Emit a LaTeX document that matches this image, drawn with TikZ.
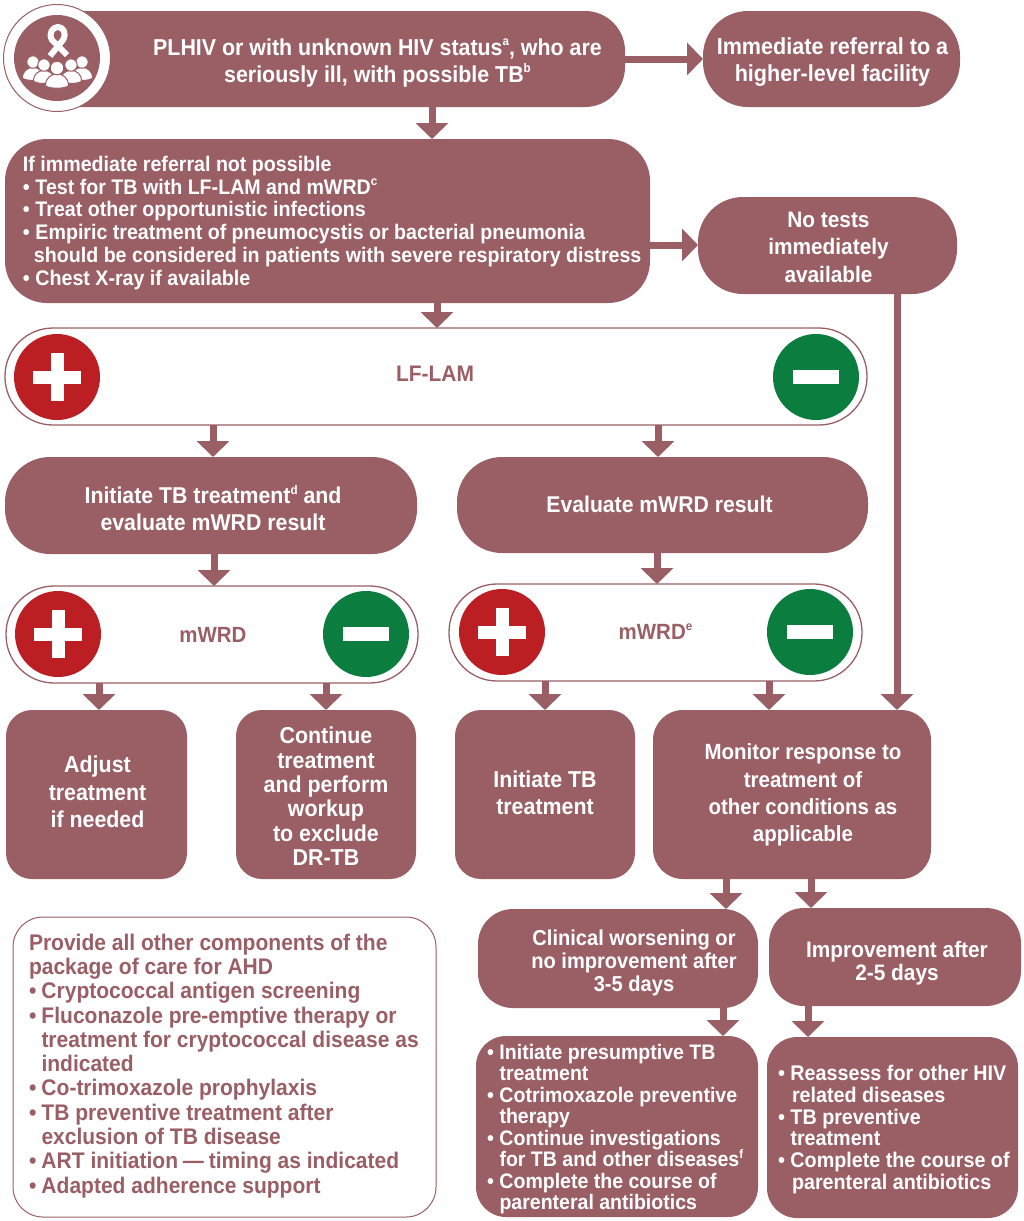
\documentclass[tikz,border=0pt]{standalone}
\usepackage{fontspec}
\setmainfont{Liberation Sans}[FakeStretch=0.93]
\usetikzlibrary{arrows.meta,calc}
\definecolor{mar}{HTML}{9A5F65}
\definecolor{redc}{HTML}{BB1F24}
\definecolor{grnc}{HTML}{0B7D3E}
\newcommand{\fsz}[2]{\fontsize{#1}{#2}\selectfont\bfseries}
\newcommand{\ctext}[3]{\hspace*{\dimexpr2\dimexpr#1pt\relax\relax}\smash{\raisebox{\dimexpr#2pt-5pt\relax}{\begin{tabular}{@{}c@{}}#3\end{tabular}}}}
\newcommand{\ltext}[4]{\makebox[#1pt][l]{\hspace*{#2pt}\smash{\raisebox{\dimexpr#3pt-5pt\relax}{\begin{tabular}{@{}l@{}}#4\end{tabular}}}}}
\newcommand{\bul}{\makebox[12.5pt][l]{•}}
\newcommand{\sps}[1]{\smash{\raisebox{.4em}{\fontsize{12.5}{12.5}\selectfont #1}}}
\tikzset{
  x=1pt,y=-1pt,
  boxbase/.style={rectangle,inner sep=0pt,outer sep=0pt,fill=mar,text=white},
  whitebox/.style={rectangle,inner sep=0pt,outer sep=0pt,fill=white,draw=mar,line width=1.3pt,text=mar},
  flow/.style={draw=mar,line width=7pt,line cap=butt,-{Triangle[length=16pt,width=32pt]}},
  sign/.style={circle,inner sep=0pt,outer sep=0pt,minimum size=86pt},
  signplus/.style={sign,fill=redc},
  signminus/.style={sign,fill=grnc},
  pers/.style={fill=white,draw=mar,line width=1pt},
}
\newcommand{\bx}[7]{\node[#6,minimum width={(#4-#2)*1pt},minimum height={(#5-#3)*1pt}] (#1) at ({(#2+#4)/2},{(#3+#5)/2}) {#7};}
\newcommand{\arrv}[3]{\coordinate (xc) at (#3,0); \draw[flow] (#1.south -| xc) -- (#2.north -| xc);}
\newcommand{\arrh}[3]{\coordinate (yc) at (0,#3); \draw[flow] (#1.east |- yc) -- (#2.west |- yc);}
\newcommand{\plusm}[1]{\fill[white] ($(#1)+(-24,-6.5)$) rectangle ($(#1)+(24,6.5)$); \fill[white] ($(#1)+(-6.5,-24)$) rectangle ($(#1)+(6.5,24)$);}
\newcommand{\minusm}[1]{\fill[white] ($(#1)+(-23,-7)$) rectangle ($(#1)+(23,7)$);}
\begin{document}
\begin{tikzpicture}
\useasboundingbox (0,0) rectangle (1024,1221);
\bx{top}{40}{11}{625}{107}{boxbase,rounded corners=40pt,font=\fsz{23}{27}}{\ctext{45}{-5.5}{PLHIV or with unknown HIV status\sps{a}, who are\\seriously ill, with possible TB\sps{b}}}
\node[circle,fill=white,draw=mar,line width=1pt,minimum size=107pt,inner sep=0pt,outer sep=0pt] (iconring) at (57,58) {};
\node[circle,fill=mar,minimum size=86pt,inner sep=0pt,outer sep=0pt] (icondisc) at (57,58) {};
\draw[white,line width=6pt,line cap=butt,line join=round] (50,56) -- (63,40) .. controls (67,33) and (63,27) .. (58,27) .. controls (53,27) and (48,33) .. (52,40) -- (67,55);
\foreach \px/\py/\ps in {33/62/6.2,82/62/6.2,44/65/6.2,71/65/6.2,57/68/6.8}{
  \draw[pers] ($(\px,\py)+({-\ps*1.7},{\ps*2.6})$) .. controls ($(\px,\py)+({-\ps*1.7},{\ps*.3})$) and ($(\px,\py)+({\ps*1.7},{\ps*.3})$) .. ($(\px,\py)+({\ps*1.7},{\ps*2.6})$) .. controls ($(\px,\py)+({\ps*1.2},{\ps*3.1})$) and ($(\px,\py)+({-\ps*1.2},{\ps*3.1})$) .. cycle;
  \draw[pers] (\px,\py) circle (\ps);
}
\bx{refer}{703}{11}{960}{107}{boxbase,rounded corners=45pt,font=\fsz{23.2}{26.5}}{\ctext{1}{-5}{Immediate referral to a\\higher-level facility}}
\bx{ifref}{5}{139}{650}{303}{boxbase,rounded corners=42pt,font=\fsz{21.1}{22.9}}{\ltext{645}{18}{-3}{If immediate referral not possible\\\bul Test for TB with LF-LAM and mWRD\sps{c}\\\bul Treat other opportunistic infections\\\bul Empiric treatment of pneumocystis or bacterial pneumonia\\\hspace*{11pt}should be considered in patients with severe respiratory distress\\\bul Chest X-ray if available}}
\bx{notest}{698}{197}{957}{294}{boxbase,rounded corners=45pt,font=\fsz{22.4}{27.3}}{\ctext{1}{-4}{No tests\\immediately\\available}}
\bx{lflam}{5}{328}{867}{425}{whitebox,rounded corners=48pt,font=\fsz{22.5}{24}}{\ctext{-1}{0}{LF-LAM}}
\node[signplus] (lfplus) at (57,377) {};\plusm{lfplus}
\node[signminus] (lfminus) at (816,377) {};\minusm{lfminus}
\bx{initl}{5}{457}{417}{554}{boxbase,rounded corners=45pt,font=\fsz{22.9}{27}}{\ctext{2}{-7.5}{Initiate TB treatment\sps{d} and\\evaluate mWRD result}}
\bx{evalr}{457}{457}{868}{553}{boxbase,rounded corners=45pt,font=\fsz{22.8}{27}}{\ctext{-3}{-2}{Evaluate mWRD result}}
\bx{mwl}{6}{586}{418}{683}{whitebox,rounded corners=48pt,font=\fsz{22}{24}}{\ctext{1}{-3}{mWRD}}
\node[signplus] (mlplus) at (58,634) {};\plusm{mlplus}
\node[signminus] (mlminus) at (366,634) {};\minusm{mlminus}
\bx{mwr}{449}{584}{862}{681}{whitebox,rounded corners=48pt,font=\fsz{22}{24}}{\ctext{0}{-2}{mWRD\sps{e}}}
\node[signplus] (mrplus) at (502,632) {};\plusm{mrplus}
\node[signminus] (mrminus) at (810,632) {};\minusm{mrminus}
\bx{adj}{6}{710}{187}{879}{boxbase,rounded corners=26pt,font=\fsz{23}{27.5}}{\ctext{1}{-1.5}{Adjust\\treatment\\if needed}}
\bx{cont}{236}{710}{416}{879}{boxbase,rounded corners=26pt,font=\fsz{23}{24.4}}{\ctext{0}{-6.5}{Continue\\treatment\\and perform\\workup\\to exclude\\DR-TB}}
\bx{inittb}{455}{710}{635}{879}{boxbase,rounded corners=26pt,font=\fsz{23}{27.5}}{\ctext{0}{-2}{Initiate TB\\treatment}}
\bx{mon}{653}{710}{931}{879}{boxbase,rounded corners=30pt,font=\fsz{22}{27.3}}{\ctext{11}{-1}{Monitor response to\\treatment of\\other conditions as\\applicable}}
\bx{worse}{478}{909}{758}{1008}{boxbase,rounded corners=35pt,font=\fsz{21.6}{23}}{\ctext{16}{-6}{Clinical worsening or\\no improvement after\\3-5 days}}
\bx{impr}{769}{908}{1021}{1006}{boxbase,rounded corners=35pt,font=\fsz{22.4}{22}}{\ctext{2}{-7}{Improvement after\\2-5 days}}
\bx{presum}{476}{1036}{758}{1217}{boxbase,rounded corners=30pt,font=\fsz{21}{21.1}}{\ltext{282}{11}{-4}{\bul Initiate presumptive TB\\\hspace*{12.5pt}treatment\\\bul Cotrimoxazole preventive\\\hspace*{12.5pt}therapy\\\bul Continue investigations\\\hspace*{12.5pt}for TB and other diseases\sps{f}\\\bul Complete the course of\\\hspace*{12.5pt}parenteral antibiotics}}
\bx{reass}{767}{1037}{1018}{1218}{boxbase,rounded corners=30pt,font=\fsz{21.2}{21.4}}{\ltext{251}{11}{-3}{\bul Reassess for other HIV\\\hspace*{14pt}related diseases\\\bul TB preventive\\\hspace*{12.5pt}treatment\\\bul Complete the course of\\\hspace*{14pt}parenteral antibiotics}}
\bx{care}{13}{917}{436}{1217}{whitebox,rounded corners=30pt,line width=1pt,font=\fsz{22.6}{24.3}}{\ltext{423}{16}{0}{Provide all other components of the\\package of care for AHD\\\bul Cryptococcal antigen screening\\\bul Fluconazole pre-emptive therapy or\\\hspace*{12.5pt}treatment for cryptococcal disease as\\\hspace*{12.5pt}indicated\\\bul Co-trimoxazole prophylaxis\\\bul TB preventive treatment after\\\hspace*{12.5pt}exclusion of TB disease\\\bul ART initiation \kern-1pt---\kern-1pt{} timing as indicated\\\bul Adapted adherence support}}
\arrh{top}{refer}{59}
\arrv{top}{ifref}{432}
\arrh{ifref}{notest}{245}
\arrv{ifref}{lflam}{437}
\arrv{lflam}{initl}{213}
\arrv{lflam}{evalr}{658}
\arrv{initl}{mwl}{214}
\arrv{evalr}{mwr}{657}
\arrv{mwl}{adj}{99}
\arrv{mwl}{cont}{326}
\arrv{mwr}{inittb}{545}
\arrv{mwr}{mon}{769}
\arrv{notest}{mon}{897}
\arrv{mon}{worse}{726}
\arrv{mon}{impr}{811}
\arrv{worse}{presum}{723}
\arrv{impr}{reass}{808}
\end{tikzpicture}
\end{document}
